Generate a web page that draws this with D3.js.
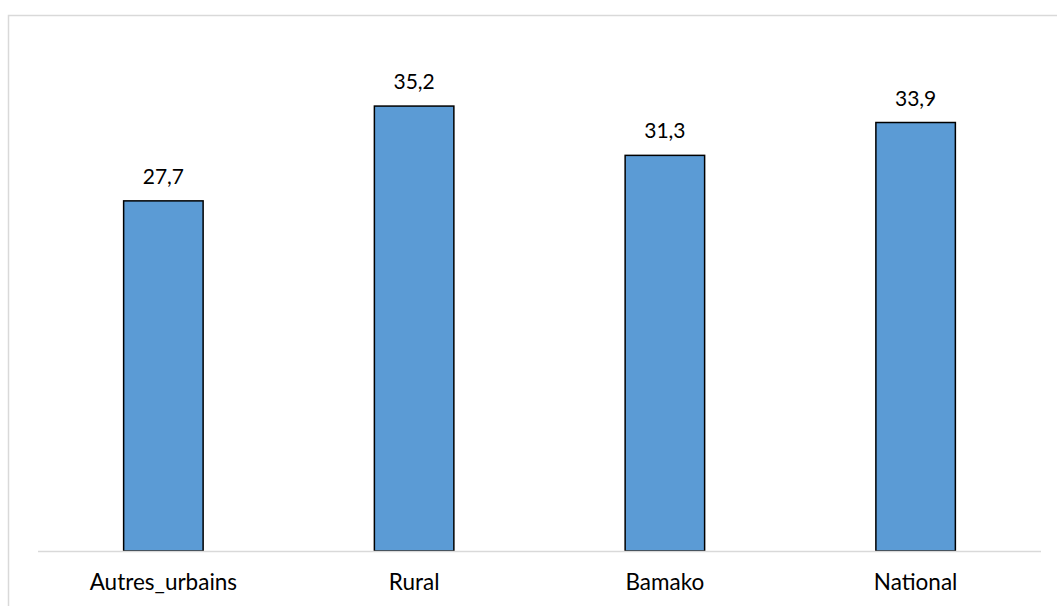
<!DOCTYPE html>
<html><head><meta charset="utf-8">
<script src="https://cdn.jsdelivr.net/npm/d3@7/dist/d3.min.js"></script>
<style>body{margin:0;background:#fff}</style>
</head><body>
<svg id="c" width="1057" height="606"></svg>
<script>
const categories = ["Autres_urbains", "Rural", "Bamako", "National"];
const values = [27.7, 35.2, 31.3, 33.9];
const labels = ["27,7", "35,2", "31,3", "33,9"];

const svg = d3.select("#c");
const font = "Lato, 'Open Sans', sans-serif";
svg.append("rect").attr("x",8.5).attr("y",15.5).attr("width",1200).attr("height",800)
  .attr("fill","#fff").attr("stroke","#d9d9d9").attr("stroke-width",1.5);

const x = d3.scaleBand().domain(categories).range([38,1041]).paddingInner(0.683).paddingOuter(0.3415);
const y = d3.scaleLinear().domain([0,40]).range([551,45.4]);

svg.selectAll("rect.bar").data(values).join("rect").attr("class","bar")
  .attr("x",(d,i)=>x(categories[i])).attr("width",x.bandwidth())
  .attr("y",d=>y(d)).attr("height",d=>y(0)-y(d))
  .attr("fill","#5b9bd5").attr("stroke","#000").attr("stroke-width",1.5);

svg.append("line").attr("x1",38).attr("x2",1041).attr("y1",y(0)+0.5).attr("y2",y(0)+0.5)
  .attr("stroke","#d9d9d9").attr("stroke-width",1.5);

svg.selectAll("text.val").data(values).join("text").attr("class","val")
  .attr("x",(d,i)=>x(categories[i])+x.bandwidth()/2).attr("y",d=>y(d)-17)
  .attr("text-anchor","middle").attr("font-family",font).attr("font-size",21).attr("fill","#000")
  .text((d,i)=>labels[i]);

svg.selectAll("text.cat").data(categories).join("text").attr("class","cat")
  .attr("x",d=>x(d)+x.bandwidth()/2).attr("y",590)
  .attr("text-anchor","middle").attr("font-family",font).attr("font-size",22.5).attr("fill","#000")
  .text(d=>d);
</script>
</body></html>
